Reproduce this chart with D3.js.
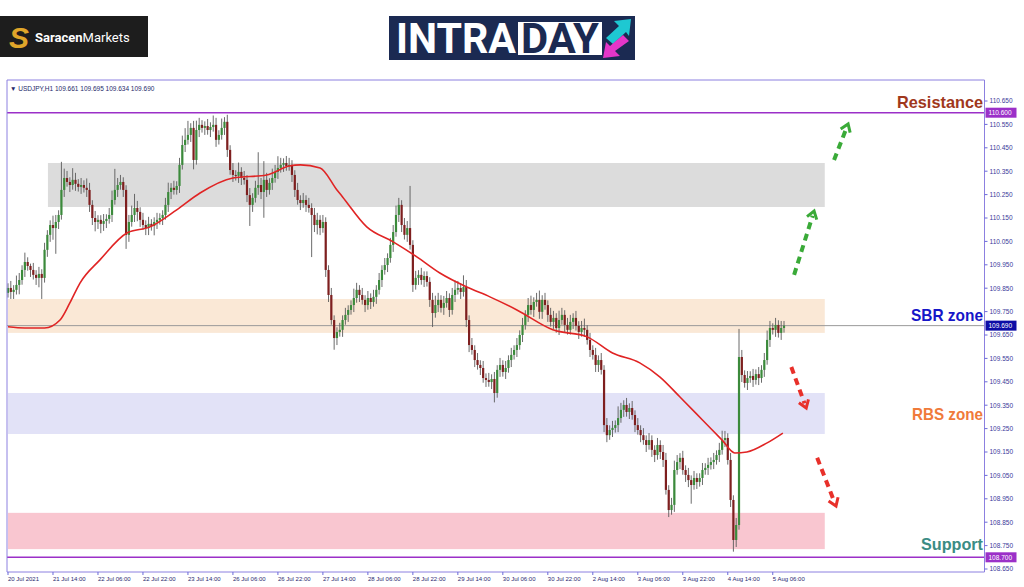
<!DOCTYPE html>
<html>
<head>
<meta charset="utf-8">
<title>USDJPY H1 intraday</title>
<script src="https://cdn.jsdelivr.net/npm/d3@7"></script>
<style>
  body { margin: 0; background: #fff; }
  svg { display: block; font-family: "Liberation Sans", Arial, sans-serif; }
</style>
</head>
<body>
<div id="chart"></div>
<script>
// hourly closes, 20 Jul 22:00 .. 5 Aug 10:00 (open of each bar = previous close)
var firstOpen = 109.830;
var closes = [
  109.851,109.834,109.843,109.864,109.885,109.928,109.962,109.945,109.928,109.907,
  109.894,109.911,109.894,110.014,110.078,110.120,110.107,110.133,110.163,110.270,
  110.321,110.304,110.291,110.313,110.296,110.283,110.291,110.279,110.270,110.206,
  110.150,110.133,110.142,110.125,110.137,110.146,110.163,110.227,110.270,110.291,
  110.304,110.270,110.078,110.133,110.163,110.193,110.176,110.142,110.120,110.107,
  110.125,110.116,110.133,110.142,110.150,110.163,110.206,110.261,110.279,110.270,
  110.287,110.377,110.462,110.484,110.505,110.535,110.398,110.526,110.548,110.535,
  110.543,110.526,110.539,110.548,110.484,110.505,110.535,110.561,110.441,110.355,
  110.334,110.330,110.347,110.321,110.313,110.248,110.206,110.236,110.279,110.291,
  110.261,110.313,110.270,110.300,110.321,110.347,110.364,110.377,110.385,110.372,
  110.377,110.334,110.270,110.227,110.214,110.227,110.206,110.193,110.163,110.120,
  110.142,110.107,110.133,109.928,109.821,109.714,109.637,109.663,109.672,109.714,
  109.736,109.757,109.778,109.808,109.843,109.821,109.800,109.778,109.808,109.791,
  109.813,109.843,109.885,109.928,109.949,109.979,110.035,110.090,110.163,110.206,
  110.120,110.078,110.107,110.035,109.864,109.894,109.907,109.885,109.902,109.877,
  109.800,109.744,109.778,109.800,109.766,109.787,109.808,109.757,109.821,109.843,
  109.851,109.834,109.855,109.714,109.607,109.586,109.543,109.522,109.509,109.466,
  109.458,109.449,109.462,109.402,109.501,109.522,109.492,109.509,109.543,109.565,
  109.586,109.607,109.650,109.693,109.736,109.778,109.757,109.791,109.800,109.749,
  109.800,109.778,109.736,109.706,109.723,109.680,109.714,109.736,109.693,109.672,
  109.706,109.723,109.689,109.663,109.680,109.672,109.629,109.586,109.565,109.522,
  109.543,109.501,109.265,109.222,109.244,109.253,109.265,109.295,109.330,109.351,
  109.321,109.338,109.308,109.265,109.244,109.222,109.201,109.180,109.201,109.159,
  109.137,109.180,109.150,109.116,108.988,108.902,108.924,109.073,109.107,109.125,
  109.073,109.052,109.030,109.009,109.039,109.022,109.039,109.073,109.082,109.095,
  109.107,109.116,109.137,109.159,109.201,109.210,109.116,108.945,108.774,108.838,
  109.556,109.479,109.445,109.466,109.475,109.458,109.483,109.466,109.501,109.543,
  109.629,109.680,109.672,109.693,109.659,109.680,109.690
];
// wick lengths above / below the body, in pips (0.01)
var upWick = [
  2,3,2,4,3,2,4,2,1,3, 2,3,2,3,2,2,4,3,2,12, 4,3,2,5,3,2,3,2,4,3, 2,3,2,2,3,2,3,4,9,3,
  3,2,2,3,4,6,3,2,3,2, 3,2,2,3,2,2,3,4,2,3, 2,3,4,5,6,2,3,4,3,2, 2,3,2,4,3,2,4,2,3,2,
  3,2,4,2,3,2,3,2,3,14, 3,8,3,2,4,3,5,3,2,3, 3,2,2,3,2,3,2,3,2,3, 3,2,3,2,2,3,2,2,3,2,
  3,2,2,4,3,2,3,2,3,2, 3,2,3,2,3,2,3,3,4,3, 2,3,3,18,2,3,2,3,2,2, 2,3,4,3,2,3,3,2,3,4,
  3,2,5,3,2,3,2,3,2,3, 2,3,2,3,2,3,2,3,2,3, 2,3,2,3,2,3,4,2,3,4, 2,3,2,3,3,2,4,3,2,3,
  3,2,3,2,3,4,2,3,2,3, 2,3,2,3,2,3,2,5,3,2, 3,2,3,2,3,2,3,2,3,2, 2,3,2,3,3,2,3,4,3,2,
  3,2,3,2,3,2,2,3,2,3, 2,3,2,3,4,3,2,3,2,3, 12,3,2,3,2,3,2,3,2,3, 4,3,2,3,2,3,2
];
var downWick = [
  2,3,3,2,4,2,3,2,3,2, 3,4,9,2,3,3,5,11,3,2, 3,2,3,2,3,2,3,2,3,3, 3,4,3,4,3,3,2,3,2,3,
  2,3,6,3,2,3,4,3,2,3, 3,2,4,3,2,3,2,3,3,2, 2,3,2,3,2,3,4,2,3,2, 3,2,3,2,3,2,2,3,3,2,
  3,2,3,3,2,3,9,3,2,3, 3,11,3,2,3,2,3,2,3,2, 2,3,3,2,3,2,3,2,18,3, 4,3,2,3,3,2,5,3,2,3,
  2,3,2,3,2,3,2,3,2,3, 2,3,2,3,2,3,2,3,2,3, 3,2,3,2,3,2,3,2,3,2, 3,6,2,3,2,3,2,3,2,3,
  2,3,2,3,3,2,3,2,3,2, 3,2,3,4,2,3,2,3,2,3, 2,3,2,3,2,3,2,3,2,3, 3,2,3,2,3,2,3,2,3,2,
  2,3,2,3,2,3,2,3,2,3, 3,2,3,3,2,3,2,3,2,3, 2,3,2,3,2,3,2,3,2,3, 3,2,3,3,2,3,2,3,2,3,
  2,3,3,8,2,3,2,3,2,3, 2,3,2,3,2,3,2,3,5,3, 2,3,2,3,2,3,2,3,2,3, 2,3,2,3,2,3,2
];
// moving average: [bar, price]
var maPoints = [
  [0,109.685],[6,109.680],[13,109.680],[18.5,109.714],[22,109.787],[25.6,109.872],
  [32.7,109.971],[42.3,110.086],[50.5,110.112],[60,110.185],[68.3,110.257],[80,110.321],
  [92,110.334],[100,110.372],[104,110.377],[111,110.364],[117,110.270],[119,110.240],
  [127.6,110.112],[137,110.048],[145.4,109.984],[153.6,109.915],[163.2,109.855],
  [171.4,109.813],[181,109.757],[193.8,109.672],[206,109.642],[215,109.573],
  [224.7,109.531],[231.8,109.471],[239,109.385],[247,109.287],[254,109.201],
  [258.5,109.146],[262.8,109.150],[270,109.189],[275.6,109.231]
];

var priceTicks = [110.65,110.55,110.45,110.35,110.25,110.15,110.05,109.95,109.85,109.75,
  109.65,109.55,109.45,109.35,109.25,109.15,109.05,108.95,108.85,108.75,108.65];
var timeTickBars = [0,16,32,48,64,80,96,112,128,144,160,176,192,208,224,240,256,272];
var timeTickLabels = ["20 Jul 2021","21 Jul 14:00","22 Jul 06:00","22 Jul 22:00","23 Jul 14:00",
  "26 Jul 06:00","26 Jul 22:00","27 Jul 14:00","28 Jul 06:00","28 Jul 22:00","29 Jul 14:00",
  "30 Jul 06:00","30 Jul 22:00","2 Aug 14:00","3 Aug 06:00","3 Aug 22:00","4 Aug 14:00","5 Aug 06:00"];

// zones
var zoneNames = ["upper", "SBR zone", "RBS zone", "Support"];
var zoneLow   = [110.197, 109.659, 109.227, 108.735];
var zoneHigh  = [110.385, 109.804, 109.402, 108.890];
var zoneFrom  = [14.2, 0, 0, 0];
var zoneTo    = [290.5, 290.5, 290.5, 290.5];

var resistance = 110.600, support = 108.700, lastPrice = 109.690;
var header = "\u25BC USDJPY,H1  109.661 109.695 109.634 109.690";

// scenario arrows: [fromBar, fromPrice, toBar, toPrice]
var upArrows   = [[279.6,109.907,286.7,110.180],[293.8,110.398,298.8,110.552]];
var downArrows = [[278.6,109.513,283.9,109.338],[287.8,109.125,294.5,108.919]];

var W = 1024, H = 587;
var svg = d3.select("#chart").append("svg").attr("width", W).attr("height", H);
svg.append("rect").attr("width", W).attr("height", H).attr("fill", "#fff");

var x = d3.scaleLinear().domain([0, 276]).range([8, 784]);
var y = d3.scaleLinear().domain([108.65, 110.65]).range([569, 101]);
var frameL = 7, frameR = 984.5, frameT = 80, frameB = 572;

// zones
var zoneFill = ["#dcdcdc", "#fae8d6", "#e2e2f7", "#f9c6d0"];
zoneNames.forEach(function(n, k) {
  svg.append("rect")
    .attr("x", x(zoneFrom[k])).attr("width", x(zoneTo[k]) - x(zoneFrom[k]))
    .attr("y", y(zoneHigh[k])).attr("height", y(zoneLow[k]) - y(zoneHigh[k]))
    .attr("fill", zoneFill[k]);
});

// price lines
svg.append("line").attr("x1", frameL).attr("x2", frameR)
  .attr("y1", y(lastPrice)).attr("y2", y(lastPrice)).attr("stroke", "#9a9a9a").attr("stroke-width", 1);
[resistance, support].forEach(function(p) {
  svg.append("line").attr("x1", frameL).attr("x2", frameR)
    .attr("y1", y(p)).attr("y2", y(p)).attr("stroke", "#9b30c8").attr("stroke-width", 1.6);
});

// candles
var candles = closes.map(function(c, i) {
  var o = i === 0 ? firstOpen : closes[i - 1];
  return { i: i, o: o, c: c,
    h: Math.max(o, c) + upWick[i] / 100,
    l: Math.min(o, c) - downWick[i] / 100 };
});
var cg = svg.append("g");
cg.selectAll("line.wick").data(candles).enter().append("line")
  .attr("class", "wick")
  .attr("x1", function(d) { return x(d.i); }).attr("x2", function(d) { return x(d.i); })
  .attr("y1", function(d) { return y(d.h); }).attr("y2", function(d) { return y(d.l); })
  .attr("stroke", "#5a5a5a").attr("stroke-width", 0.9);
cg.selectAll("rect.body").data(candles).enter().append("rect")
  .attr("class", "body")
  .attr("x", function(d) { return x(d.i) - 1.1; })
  .attr("width", 2.2)
  .attr("y", function(d) { return y(Math.max(d.o, d.c)); })
  .attr("height", function(d) { return Math.max(0.8, Math.abs(y(d.o) - y(d.c))); })
  .attr("fill", function(d) { return d.c >= d.o ? "#3b8a3b" : "#7e1f1f"; });

// moving average
svg.append("path").datum(maPoints)
  .attr("d", d3.line().x(function(d) { return x(d[0]); }).y(function(d) { return y(d[1]); })
    .curve(d3.curveMonotoneX))
  .attr("fill", "none").attr("stroke", "#e02424").attr("stroke-width", 1.6);

// frame
svg.append("path")
  .attr("d", "M" + frameL + "," + frameB + "V" + frameT + "H" + frameR + "V" + frameB + "H" + frameL)
  .attr("fill", "none").attr("stroke", "#8c80e0").attr("stroke-width", 1);

// price axis
var ax = svg.append("g").attr("font-size", 6.5).attr("fill", "#3a3a9a");
priceTicks.forEach(function(p) {
  ax.append("line").attr("x1", frameR).attr("x2", frameR + 3).attr("y1", y(p)).attr("y2", y(p))
    .attr("stroke", "#6a6ad8");
  ax.append("text").attr("x", frameR + 5).attr("y", y(p) + 2.3).text(p.toFixed(3));
});
function priceTag(p, bg) {
  ax.append("rect").attr("x", frameR + 1).attr("y", y(p) - 5).attr("width", 31).attr("height", 10)
    .attr("fill", bg);
  ax.append("text").attr("x", frameR + 4).attr("y", y(p) + 2.4).attr("fill", "#fff").text(p.toFixed(3));
}
priceTag(resistance, "#9b30c8");
priceTag(support, "#9b30c8");
priceTag(lastPrice, "#0d0da6");

// time axis
var tx = svg.append("g").attr("font-size", 6).attr("fill", "#2a2a70");
timeTickBars.forEach(function(b, k) {
  tx.append("line").attr("x1", x(b)).attr("x2", x(b)).attr("y1", frameB).attr("y2", frameB + 3)
    .attr("stroke", "#6a6ad8");
  tx.append("text").attr("x", x(b)).attr("y", frameB + 9).text(timeTickLabels[k]);
});

svg.append("text").attr("x", 10).attr("y", 91).attr("font-size", 6.5).attr("fill", "#1e2a6a")
  .text(header);

// scenario arrows
function arrow(a, color) {
  var x0 = x(a[0]), y0 = y(a[1]), x1 = x(a[2]), y1 = y(a[3]);
  var dx = x1 - x0, dy = y1 - y0, len = Math.sqrt(dx * dx + dy * dy);
  var ux = dx / len, uy = dy / len;
  svg.append("line").attr("x1", x0).attr("y1", y0)
    .attr("x2", x1 - ux * 5).attr("y2", y1 - uy * 5)
    .attr("stroke", color).attr("stroke-width", 4).attr("stroke-dasharray", "7,5");
  function arm(ang) {
    var c = Math.cos(ang), s = Math.sin(ang);
    return [x1 - 9 * (ux * c - uy * s), y1 - 9 * (ux * s + uy * c)];
  }
  var p1 = arm(0.6), p2 = arm(-0.6);
  svg.append("path")
    .attr("d", "M" + p1[0] + "," + p1[1] + "L" + x1 + "," + y1 + "L" + p2[0] + "," + p2[1])
    .attr("fill", "none").attr("stroke", color).attr("stroke-width", 3);
}
upArrows.forEach(function(a) { arrow(a, "#3aaa38"); });
downArrows.forEach(function(a) { arrow(a, "#e8302a"); });

// zone labels
var lab = svg.append("g").attr("font-weight", "bold").attr("font-size", 17)
  .attr("font-family", "'Liberation Sans Narrow', 'Liberation Sans', Arial, sans-serif")
  .attr("text-anchor", "end");
[["Resistance", 108, "#a0381c", 86], ["SBR zone", 321, "#1616c8", 72],
 ["RBS zone", 420, "#f07a3a", 71], ["Support", 550, "#3b8c84", 62]].forEach(function(t) {
  lab.append("text").attr("x", 983).attr("y", t[1]).attr("fill", t[2])
    .attr("textLength", t[3]).attr("lengthAdjust", "spacingAndGlyphs").text(t[0]);
});

// logos
var lg = svg.append("g");
lg.append("rect").attr("x", 0).attr("y", 16).attr("width", 148).attr("height", 41).attr("fill", "#1d1d1d");
lg.append("text").attr("x", 9).attr("y", 48).attr("font-size", 30).attr("font-weight", "bold")
  .attr("font-style", "italic").attr("fill", "#e0a62a").text("S");
lg.append("text").attr("x", 35).attr("y", 42).attr("font-size", 13).attr("fill", "#fff")
  .attr("font-family", "Roboto, sans-serif")
  .html("<tspan font-weight='bold'>Saracen</tspan><tspan>Markets</tspan>");

lg.append("rect").attr("x", 389).attr("y", 16).attr("width", 246).attr("height", 44).attr("fill", "#1b2a52");
lg.append("text").attr("x", 396).attr("y", 53).attr("font-size", 42).attr("font-weight", "bold")
  .attr("font-family", "Roboto, sans-serif").attr("fill", "#fff")
  .attr("textLength", 120).attr("lengthAdjust", "spacingAndGlyphs").text("INTRA");
lg.append("rect").attr("x", 518).attr("y", 22).attr("width", 84).attr("height", 33).attr("fill", "#fff");
lg.append("text").attr("x", 521).attr("y", 53).attr("font-size", 42).attr("font-weight", "bold")
  .attr("font-family", "Roboto, sans-serif").attr("fill", "#1b2a52")
  .attr("textLength", 78).attr("lengthAdjust", "spacingAndGlyphs").text("DAY");
lg.append("path").attr("d", "M631,19 L614,21 L619,26 L606,38 L613,44 L626,32 L629,36 Z").attr("fill", "#1ec8d2");
lg.append("path").attr("d", "M603,58 L620,56 L615,51 L629,41 L623,35 L610,46 L606,42 Z").attr("fill", "#e436c8");
</script>
</body>
</html>
